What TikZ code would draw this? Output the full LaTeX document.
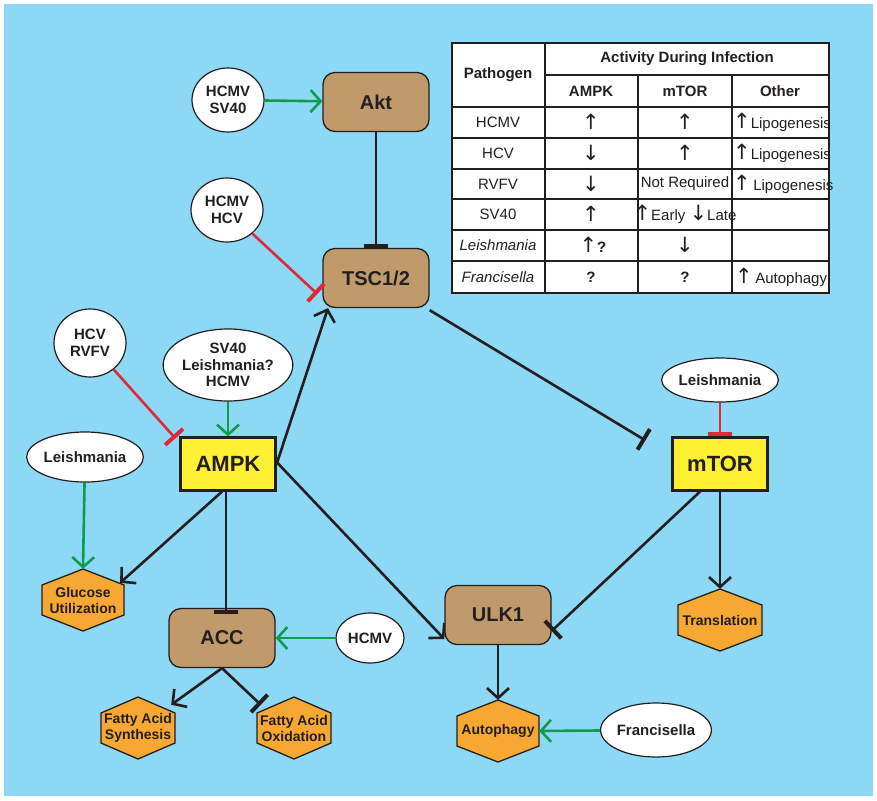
\documentclass[tikz,border=0pt]{standalone}
\usepackage{fontspec}
\setmainfont{Liberation Sans}
\newfontfamily\arrf{DejaVu Sans}
\usetikzlibrary{arrows.meta,shapes.geometric}
\definecolor{bg}{HTML}{8DD8F4}
\definecolor{brn}{HTML}{C19A6B}
\definecolor{yel}{HTML}{FFF033}
\definecolor{org}{HTML}{F7A833}
\definecolor{grn}{HTML}{0E9D4E}
\definecolor{rd}{HTML}{E0283A}
\definecolor{blk}{HTML}{231F20}
\newcommand{\up}{{\arrf\fontsize{21}{21}\selectfont ↑}}
\newcommand{\dn}{{\arrf\fontsize{21}{21}\selectfont ↓}}
\newcommand{\hexa}[5]{% name, x, y, halfwidth, text
  \fill[org,draw=blk,line width=1.3pt] (#2-#4,#3-15) -- (#2,#3-31) -- (#2+#4,#3-15) -- (#2+#4,#3+15) -- (#2,#3+31) -- (#2-#4,#3+15) -- cycle;
  \node[font=\bfseries\fontsize{14}{16}\selectfont,align=center,text=blk,inner sep=0pt,minimum width=2*#4pt,minimum height=62pt] (#1) at (#2,#3) {#5};}
\begin{document}
\begin{tikzpicture}[x=1pt,y=-1pt,
  box/.style={draw=blk,line width=1.3pt,rounded corners=12pt,fill=brn,minimum width=106pt,minimum height=59pt,font=\bfseries\fontsize{20}{22}\selectfont,text=blk},
  ybox/.style={draw=blk,line width=2.2pt,fill=yel,minimum width=95pt,minimum height=53pt,font=\bfseries\fontsize{22}{24}\selectfont,text=blk},
  ell/.style={ellipse,draw=blk,line width=1.2pt,fill=white,inner sep=0pt,align=center,font=\bfseries\fontsize{15}{16.5}\selectfont,text=blk},
  act/.style={line width=2.6pt,-{Straight Barb[length=10pt,width=22pt,line width=2.6pt]}},
  inh/.style={line width=2.6pt,-{Bar[width=24pt,line width=4pt]}},
  ga/.style={act,grn},
  ri/.style={inh,rd},
  ba/.style={act,blk},
  bi/.style={inh,blk},
  tx/.style={font=\fontsize{15}{17}\selectfont,text=blk,inner sep=0pt},
  th/.style={font=\bfseries\fontsize{15}{17}\selectfont,text=blk,inner sep=0pt}]
\useasboundingbox (0,0) rectangle (877,800);
\fill[white] (0,0) rectangle (877,800);
\fill[bg] (4,4) rectangle (873,796);

% nodes
\node[box] (akt) at (376,102) {Akt};
\node[box] (tsc) at (376,278) {TSC1/2};
\node[box] (acc) at (222,638) {ACC};
\node[box] (ulk) at (498,615) {ULK1};
\node[ybox] (ampk) at (228,464) {AMPK};
\node[ybox] (mtor) at (720,464) {mTOR};
\node[ell,minimum width=72pt,minimum height=64pt] (e1) at (228,100) {HCMV\\SV40};
\node[ell,minimum width=72pt,minimum height=64pt] (e2) at (227,210) {HCMV\\HCV};
\node[ell,minimum width=72pt,minimum height=68pt] (e3) at (90,343) {HCV\\RVFV};
\node[ell,minimum width=98pt,minimum height=72pt] (e4) at (228,365) {SV40\\Leishmania?\\HCMV};
\node[ell,minimum width=100pt,minimum height=44pt] (e5) at (720,380) {Leishmania};
\node[ell,minimum width=96pt,minimum height=50pt] (e6) at (85,457) {Leishmania};
\node[ell,minimum width=68pt,minimum height=50pt] (e7) at (370,638) {HCMV};
\node[ell,minimum width=92pt,minimum height=54pt] (e8) at (656,730) {Francisella};
\hexa{glu}{83}{600}{41}{Glucose\\Utilization}
\hexa{fas}{138}{728}{37}{Fatty Acid\\Synthesis}
\hexa{fao}{294}{728}{37}{Fatty Acid\\Oxidation}
\hexa{trl}{720}{620}{42}{Translation}
\hexa{aut}{498}{731}{41}{Autophagy}

% connectors
\draw[ga] (e1) -- (akt);
\draw[bi] (akt) -- (tsc);
\draw[ri] (e2) -- ([xshift=-5pt,yshift=-16pt]tsc.west);
\draw[ri] (e3) -- ([xshift=-4pt,yshift=-2pt]ampk.north west);
\draw[ga] (e4) -- (ampk);
\draw[ba] (ampk.east) -- ([xshift=-48pt]tsc.south);
\draw[bi] ([yshift=-2pt]tsc.south east) -- ([xshift=-26pt,yshift=-4pt]mtor.north west);
\draw[ri] (e5) -- (mtor);
\draw[ga] (e6) -- (glu.north);
\draw[ba] ([xshift=-6pt]ampk.south) -- ([xshift=-4pt,yshift=-14pt]glu.north east);
\draw[bi] ([xshift=-2pt]ampk.south) -- ([xshift=4pt,yshift=-6pt]acc.north);
\draw[ga] (e7) -- (acc);
\draw[ba] (acc.south) -- ([xshift=-4pt,yshift=-8pt]fas.north east);
\draw[bi] (acc.south) -- ([xshift=4pt,yshift=-8pt]fao.north west);
\draw[ba] ([yshift=2pt]ampk.east) -- ([yshift=-24pt]ulk.west);
\draw[bi] ([xshift=-20pt]mtor.south) -- ([yshift=-16pt]ulk.east);
\draw[ba] (mtor.south) -- (trl.north);
\draw[ba] (ulk.south) -- (aut.north);
\draw[ga] (e8) -- (aut.east);

% table
\fill[white] (452,43) rectangle (829,293);
\draw[blk,line width=1.3pt] (452,43) rectangle (829,293);
\foreach \yy in {107,138,169,199,230,261} \draw[blk,line width=1.3pt] (452,\yy) -- (829,\yy);
\draw[blk,line width=1.3pt] (545,75) -- (829,75);
\draw[blk,line width=1.3pt] (545,43) -- (545,293);
\foreach \xx in {638,732} \draw[blk,line width=1.3pt] (\xx,75) -- (\xx,293);
\node[th] (t0) at (498,75) {Pathogen};
\node[th] (t1) at (687,59) {Activity During Infection};
\node[th] (t2) at (591,91) {AMPK};
\node[th] (t3) at (685,91) {mTOR};
\node[th] (t4) at (780,91) {Other};
\node[tx] (r1a) at (498,122) {HCMV};
\node[tx] (r1b) at (591,122) {\up};
\node[tx] (r1c) at (685,122) {\up};
\node[tx,anchor=west] (r1d) at (733,122) {\up Lipogenesis};
\node[tx] (r2a) at (498,153) {HCV};
\node[tx] (r2b) at (591,153) {\dn};
\node[tx] (r2c) at (685,153) {\up};
\node[tx,anchor=west] (r2d) at (733,153) {\up Lipogenesis};
\node[tx] (r3a) at (498,184) {RVFV};
\node[tx] (r3b) at (591,184) {\dn};
\node[tx] (r3c) at (685,184) {Not Required};
\node[tx,anchor=west] (r3d) at (733,184) {\up\,Lipogenesis};
\node[tx] (r4a) at (498,214) {SV40};
\node[tx] (r4b) at (591,214) {\up};
\node[tx] (r4c) at (685,214) {\up Early \dn Late};
\node[tx] (r5a) at (498,245) {\itshape Leishmania};
\node[tx] (r5b) at (593,245) {\up\textbf{?}};
\node[tx] (r5c) at (685,245) {\dn};
\node[tx] (r6a) at (498,277) {\itshape Francisella};
\node[tx] (r6b) at (591,277) {\textbf{?}};
\node[tx] (r6c) at (685,277) {\textbf{?}};
\node[tx,anchor=west] (r6d) at (735,277) {\up\,Autophagy};
\end{tikzpicture}
\end{document}
